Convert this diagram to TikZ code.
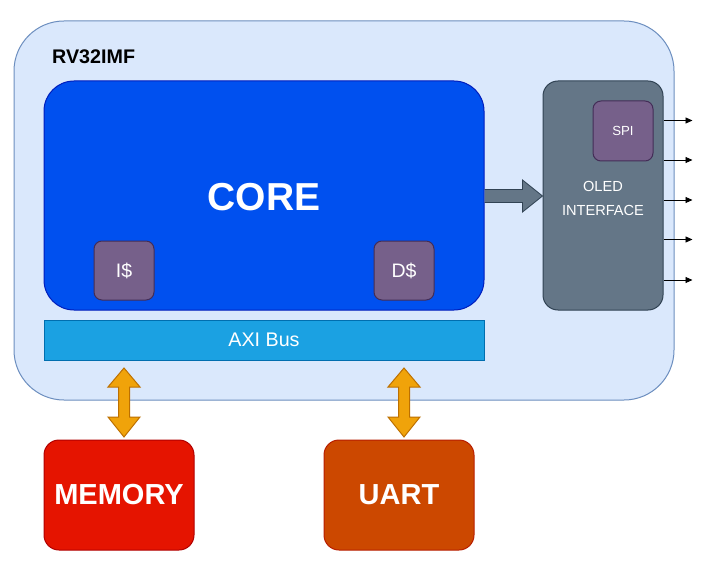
\documentclass[tikz,border=0pt]{standalone}
\usepackage{fontspec}
\setmainfont{Liberation Sans}
\usetikzlibrary{arrows.meta,calc}
\definecolor{outerfill}{HTML}{DAE8FC}
\definecolor{outerline}{HTML}{6C8EBF}
\definecolor{corefill}{HTML}{0050EF}
\definecolor{coreline}{HTML}{001DBC}
\definecolor{purfill}{HTML}{76608A}
\definecolor{purline}{HTML}{432D57}
\definecolor{axifill}{HTML}{1BA1E2}
\definecolor{axiline}{HTML}{006EAF}
\definecolor{oledfill}{HTML}{647687}
\definecolor{oledline}{HTML}{314354}
\definecolor{memfill}{HTML}{E51400}
\definecolor{memline}{HTML}{B20000}
\definecolor{uartfill}{HTML}{CC4800}
\definecolor{uartline}{HTML}{B81E00}
\definecolor{orfill}{HTML}{F0A30A}
\definecolor{orline}{HTML}{BD7000}
\newcommand{\fsz}[2]{\fontsize{#1}{#2}\selectfont}
\tikzset{
  box/.style={rectangle, inner sep=0pt, line width=1pt, text=white, align=center},
  cachebox/.style={box, fill=purfill, draw=purline, rounded corners=8pt,
     minimum width=60pt, minimum height=59pt, font=\fsz{19.5}{23}},
  extbox/.style={box, rounded corners=15pt, minimum width=150pt, minimum height=110pt,
     font=\bfseries\fsz{29}{34}},
  sig/.style={line width=0.9pt, -{Triangle[length=7pt,width=6pt]}},
  orarrow/.style={fill=orfill, draw=orline, line width=1pt, line join=miter},
}
\begin{document}
\begin{tikzpicture}[x=1pt,y=-1pt]
\useasboundingbox (0,0) rectangle (717,572);
\fill[white] (0,0) rectangle (717,572);
% outer chip
\node[box, fill=outerfill, draw=outerline, rounded corners=50pt,
  minimum width=660pt, minimum height=379pt] (chip) at (344,210.5) {};
\node[anchor=west, inner sep=0pt, font=\bfseries\fsz{19.7}{24}] (chiplbl) at (52,56.5) {RV32IMF};
% core
\node[box, fill=corefill, draw=coreline, rounded corners=30pt,
  minimum width=440pt, minimum height=229pt] (core) at (264,195.5) {};
\node[inner sep=0pt, text=white, font=\bfseries\fsz{39}{44}] (corelbl) at (264,197) {CORE};
\node[cachebox] (icache) at (124,270.5) {I\$};
\node[cachebox] (dcache) at (404,270.5) {D\$};
% AXI bus
\node[box, fill=axifill, draw=axiline, minimum width=440pt, minimum height=40pt,
  font=\fsz{19.7}{24}] (axi) at (264,340) {AXI Bus};
% OLED interface
\node[box, fill=oledfill, draw=oledline, rounded corners=15pt,
  minimum width=120pt, minimum height=229pt] (oled) at (603,195.5) {};
\node[inner sep=0pt, text=white, align=center, font=\fsz{14.6}{23.5}] (oledlbl) at (603,198.5) {OLED\\INTERFACE};
\node[box, fill=purfill, draw=purline, rounded corners=8pt,
  minimum width=60pt, minimum height=60pt, font=\fsz{13.2}{16}] (spi) at (623,131) {SPI};
% output signals
\foreach \k/\dy in {1/40,2/79.5,3/119.5,4/159,5/199.5}{
  \coordinate (s\k) at ($(oled.north east)+(0,\dy)$);
  \coordinate (e\k) at ($(s\k)+(29,0)$);
  \draw[sig] (s\k) -- (e\k);
}
% block arrow core -> oled
\coordinate (ba) at (core.east |- 0,196);
\coordinate (bb) at (oled.west |- 0,196);
\fill[oledfill] (ba) ++(0,-6.5) -- ($(bb)+(-20,-6.5)$) -- ($(bb)+(-20,-16)$) -- (bb)
  -- ($(bb)+(-20,16)$) -- ($(bb)+(-20,6.5)$) -- ($(ba)+(0,6.5)$) -- cycle;
\draw[oledline, line width=0.8pt] ($(ba)+(0,-6.5)$) -- ($(bb)+(-20,-6.5)$) -- ($(bb)+(-20,-16)$) -- (bb)
  -- ($(bb)+(-20,16)$) -- ($(bb)+(-20,6.5)$) -- ($(ba)+(0,6.5)$);
% external blocks
\node[extbox, fill=memfill, draw=memline] (mem) at (119,495) {MEMORY};
\node[extbox, fill=uartfill, draw=uartline] (uart) at (399,495) {UART};
% orange double arrows
\foreach \n/\cx in {ma/124,ua/404}{
  \coordinate (\n t) at (\cx,368);
  \coordinate (\n b) at (\cx,437);
  \draw[orarrow] (\n t) -- ++(16,19) -- ++(-10.5,0) -- ++(0,30) -- ++(10.5,0)
    -- (\n b) -- ++(-16,-20) -- ++(10.5,0) -- ++(0,-30) -- ++(-10.5,0) -- cycle;
}
\end{tikzpicture}
\end{document}
